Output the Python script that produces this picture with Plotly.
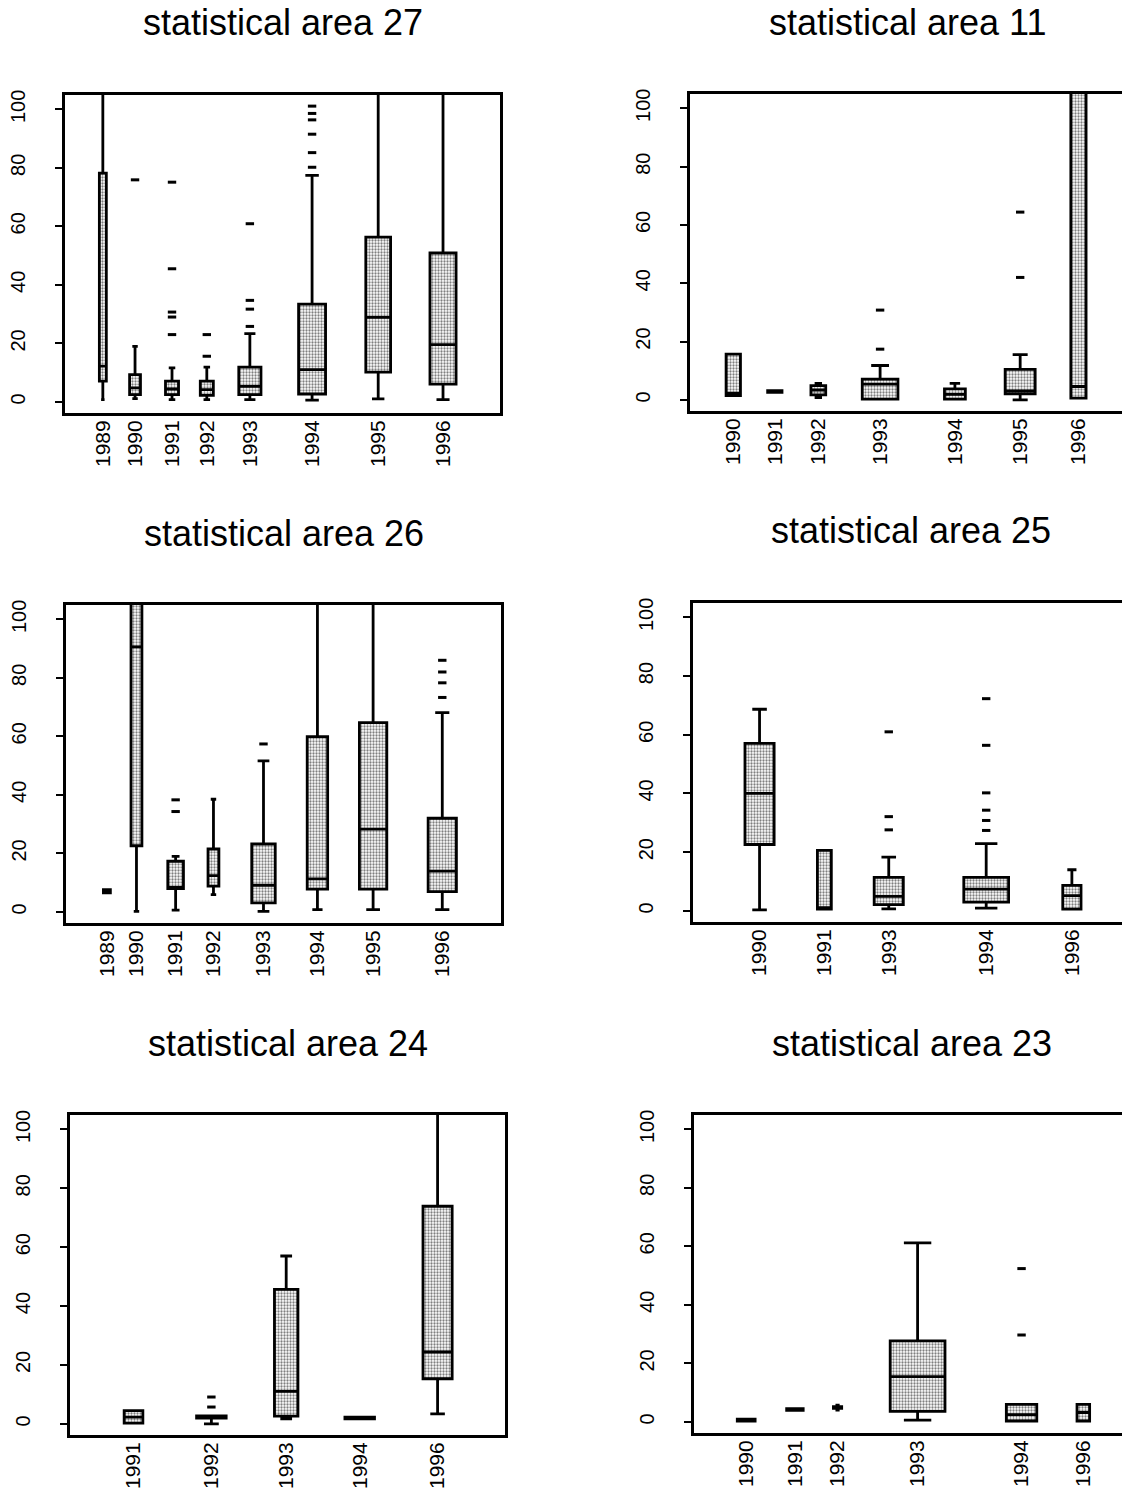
import plotly.graph_objects as go

# ---------------- data ----------------
# positions are box centres in % of the panel width, widths likewise
a27_years = ["1989", "1990", "1991", "1992", "1993", "1994", "1995", "1996"]
a27_pos = [8.7, 16.1, 24.6, 32.6, 42.5, 56.8, 72.0, 86.9]
a27_wid = [1.6, 2.5, 3.0, 3.0, 5.1, 6.2, 5.7, 6.0]
a27_q1 = [7.1, 2.5, 2.5, 2.2, 2.5, 2.7, 10.2, 6.1]
a27_med = [12.2, 4.8, 4.4, 4.2, 5.3, 11.0, 28.9, 19.6]
a27_q3 = [78.2, 9.3, 7.1, 7.1, 11.9, 33.4, 56.3, 50.9]
a27_lo = [0.8, 1.1, 0.8, 0.8, 0.8, 0.6, 1.0, 0.8]
a27_hi = [130, 19.0, 11.6, 11.9, 23.3, 77.4, 130, 130]
a27_out = [[], [75.9], [75.1, 45.5, 30.7, 29.0, 23.0], [23.0, 15.6],
           [60.9, 34.7, 31.7, 25.8], [80.2, 85.2, 91.5, 96.4, 98.6, 101.1], [], []]

a11_years = ["1990", "1991", "1992", "1993", "1994", "1995", "1996"]
a11_pos = [9.95, 19.5, 29.5, 43.7, 60.9, 75.9, 89.3]
a11_wid = [3.3, 3.3, 3.4, 8.2, 4.8, 6.9, 3.5]
a11_q1 = [1.5, 2.6, 1.7, 0.3, 0.3, 2.1, 0.6]
a11_med = [2.3, 2.9, 3.4, 5.4, 1.9, 3.1, 4.6]
a11_q3 = [15.7, 3.2, 4.9, 7.1, 3.8, 10.5, 130]
a11_lo = [1.5, 2.6, 0.8, 0.3, 0.3, 0.0, 0.6]
a11_hi = [15.7, 3.2, 5.7, 11.8, 5.7, 15.5, 130]
a11_out = [[], [], [], [17.4, 30.8], [], [42.0, 64.4], []]

a26_years = ["1989", "1990", "1991", "1992", "1993", "1994", "1995", "1996"]
a26_pos = [9.4, 16.2, 25.2, 33.9, 45.4, 57.8, 70.6, 86.5]
a26_wid = [1.6, 2.5, 3.6, 2.5, 5.4, 4.7, 6.3, 6.5]
a26_q1 = [6.5, 22.6, 8.0, 8.8, 3.1, 7.8, 7.8, 6.9]
a26_med = [7.0, 90.6, 8.0, 12.4, 9.1, 11.3, 28.3, 13.9]
a26_q3 = [7.6, 130, 17.3, 21.5, 23.2, 59.9, 64.7, 32.0]
a26_lo = [6.5, 0.2, 0.6, 5.9, 0.2, 0.8, 0.8, 0.8]
a26_hi = [7.6, 130, 19.0, 38.5, 51.6, 130, 130, 68.1]
a26_out = [[], [], [38.3, 34.3], [], [57.4], [], [], [73.3, 78.3, 82.0, 86.0]]

a25_years = ["1990", "1991", "1993", "1994", "1996"]
a25_pos = [15.3, 30.2, 45.0, 67.4, 87.1]
a25_wid = [6.7, 3.2, 6.7, 10.3, 4.2]
a25_q1 = [22.6, 0.6, 2.1, 3.0, 0.6]
a25_med = [40.0, 1.1, 4.9, 7.4, 5.2]
a25_q3 = [57.1, 20.6, 11.4, 11.4, 8.7]
a25_lo = [0.3, 0.6, 0.7, 0.9, 0.6]
a25_hi = [68.7, 20.6, 18.3, 22.9, 14.0]
a25_out = [[], [], [27.6, 32.1, 61.0], [27.4, 30.8, 34.3, 40.2, 56.4, 72.3], []]

a24_years = ["1991", "1992", "1993", "1994", "1996"]
a24_pos = [14.6, 32.5, 49.7, 66.6, 84.5]
a24_wid = [4.3, 6.8, 5.4, 6.8, 6.7]
a24_q1 = [0.2, 1.9, 2.6, 1.7, 15.3]
a24_med = [2.3, 2.3, 11.0, 2.0, 24.4]
a24_q3 = [4.5, 2.7, 45.7, 2.3, 73.9]
a24_lo = [0.2, 0.0, 1.7, 1.7, 3.4]
a24_hi = [4.5, 2.7, 57.0, 2.3, 130]
a24_out = [[], [5.7, 9.1], [], [], []]

a23_years = ["1990", "1991", "1992", "1993", "1994", "1996"]
a23_pos = [12.0, 23.2, 33.0, 51.4, 75.3, 89.5]
a23_wid = [4.1, 3.8, 1.9, 12.6, 7.0, 2.9]
a23_q1 = [0.3, 3.9, 4.6, 3.6, 0.3, 0.3]
a23_med = [0.6, 4.2, 4.9, 15.5, 2.5, 3.2]
a23_q3 = [0.9, 4.5, 5.2, 27.7, 6.0, 6.0]
a23_lo = [0.3, 3.9, 4.0, 0.6, 0.3, 0.3]
a23_hi = [0.9, 4.5, 5.7, 61.2, 6.0, 6.0]
a23_out = [[], [], [], [], [29.7, 52.4], []]

titles = ["statistical area 27", "statistical area 11", "statistical area 26",
          "statistical area 25", "statistical area 24", "statistical area 23"]
y_ticks = [0, 20, 40, 60, 80, 100]

# ---------------- layout geometry (pixels) ----------------
W, H = 1122, 1492
NOMINAL_W = 435
# (left, top, bottom, right-open?)
frames = [(65, 95, 413, False), (690, 94, 411, True),
          (66, 605, 923, False), (693, 603, 922, True),
          (70, 1115, 1435, False), (694, 1115, 1433, True)]

panels = [
    (a27_years, a27_pos, a27_wid, a27_q1, a27_med, a27_q3, a27_lo, a27_hi, a27_out),
    (a11_years, a11_pos, a11_wid, a11_q1, a11_med, a11_q3, a11_lo, a11_hi, a11_out),
    (a26_years, a26_pos, a26_wid, a26_q1, a26_med, a26_q3, a26_lo, a26_hi, a26_out),
    (a25_years, a25_pos, a25_wid, a25_q1, a25_med, a25_q3, a25_lo, a25_hi, a25_out),
    (a24_years, a24_pos, a24_wid, a24_q1, a24_med, a24_q3, a24_lo, a24_hi, a24_out),
    (a23_years, a23_pos, a23_wid, a23_q1, a23_med, a23_q3, a23_lo, a23_hi, a23_out),
]

FONT = "Liberation Sans, Arial, Helvetica, sans-serif"
fig = go.Figure()
layout = dict(width=W, height=H, margin=dict(l=0, r=0, t=0, b=0, autoexpand=False),
              paper_bgcolor="white", plot_bgcolor="white", showlegend=False,
              hovermode=False, barmode="overlay", boxmode="overlay",
              font=dict(family=FONT, color="black"), annotations=[])

for i, (panel, frame) in enumerate(zip(panels, frames)):
    years, pos, wid, q1, med, q3, lo, hi, outs = panel
    left, top, bottom, open_right = frame
    n = i + 1
    xa = "x" if n == 1 else f"x{n}"
    ya = "y" if n == 1 else f"y{n}"
    right = W if open_right else left + NOMINAL_W
    xr = 100.0 * (right - left) / NOMINAL_W

    for j in range(len(years)):
        # stippled box body
        fig.add_trace(go.Bar(
            x=[pos[j]], y=[q3[j] - q1[j]], base=[q1[j]], width=[wid[j]],
            xaxis=xa, yaxis=ya,
            marker=dict(color="white", line=dict(width=0),
                        pattern=dict(shape=".", fgcolor="black", bgcolor="white",
                                     size=3, solidity=0.45))))
        # outline, median, whiskers
        fig.add_trace(go.Box(
            x=[pos[j]], q1=[q1[j]], median=[med[j]], q3=[q3[j]],
            lowerfence=[lo[j]], upperfence=[hi[j]], width=wid[j],
            xaxis=xa, yaxis=ya, boxpoints=False,
            fillcolor="rgba(0,0,0,0)", line=dict(color="black", width=2.8)))
        if outs[j]:
            fig.add_trace(go.Scatter(
                x=[pos[j]] * len(outs[j]), y=outs[j], mode="markers",
                xaxis=xa, yaxis=ya,
                marker=dict(symbol="line-ew", size=6,
                            line=dict(color="black", width=3))))

    layout["xaxis" if n == 1 else f"xaxis{n}"] = dict(
        domain=[left / W, right / W], anchor=ya, range=[0, xr],
        tickmode="array", tickvals=pos, ticktext=years, tickangle=-90,
        ticks="", ticklabelstandoff=-4, showgrid=False, zeroline=False,
        showline=True, linecolor="black", linewidth=2.8, mirror=True,
        automargin=False,
        tickfont=dict(size=21, family=FONT, color="black"))
    layout["yaxis" if n == 1 else f"yaxis{n}"] = dict(
        domain=[1 - bottom / H, 1 - top / H], anchor=xa, range=[-3.8, 104.9],
        tickmode="array", tickvals=y_ticks, ticktext=[str(t) for t in y_ticks],
        tickangle=-90, ticks="outside", ticklen=7, tickwidth=2, tickcolor="black",
        ticklabelstandoff=22, showgrid=False, zeroline=False, showline=True,
        linecolor="black", linewidth=2.8, mirror=not open_right, automargin=False,
        tickfont=dict(size=20, family=FONT, color="black"))
    layout["annotations"].append(dict(
        text=titles[i], xref="paper", yref="paper",
        x=(left + NOMINAL_W / 2) / W, y=1 - (top - 72) / H,
        xanchor="center", yanchor="middle", showarrow=False,
        font=dict(size=36, family=FONT, color="black")))

fig.update_layout(**layout)
fig.write_html("out.html", config={"displayModeBar": False},
               post_script="document.body.style.margin='0px';"
                           "document.body.style.overflow='hidden';")
